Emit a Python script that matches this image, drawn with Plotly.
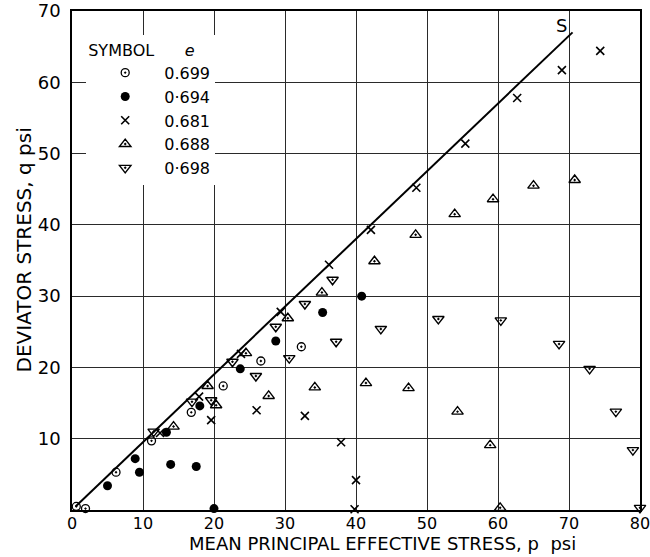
import plotly.graph_objects as go

# e = 0.699 (open circle with dot)
p_699 = [0.6, 1.9, 6.2, 11.2, 16.8, 21.3, 26.6, 32.3]
q_699 = [0.5, 0.2, 5.3, 9.7, 13.7, 17.4, 20.9, 22.9]

# e = 0.694 (filled circle)
p_694 = [5.0, 8.9, 9.5, 13.3, 13.9, 17.5, 18.0, 20.0, 23.7, 28.7, 35.3, 40.8]
q_694 = [3.4, 7.2, 5.3, 10.9, 6.4, 6.1, 14.6, 0.2, 19.8, 23.7, 27.7, 30.0]

# e = 0.681 (cross)
p_681 = [12.4, 17.9, 19.6, 23.8, 26.0, 29.4, 32.8, 36.2, 37.9, 40.0, 39.8, 42.1, 48.5, 55.4, 62.7, 69.0, 74.4]
q_681 = [10.8, 15.9, 12.6, 21.9, 14.0, 27.8, 13.2, 34.4, 9.5, 4.2, 0.1, 39.3, 45.2, 51.4, 57.8, 61.7, 64.4]

# e = 0.688 (triangle up)
p_688 = [14.3, 19.1, 20.3, 24.5, 27.7, 30.4, 34.2, 35.2, 41.4, 42.6, 47.4, 48.4, 53.9, 54.3, 58.9, 59.3, 60.3, 65.0, 70.8]
q_688 = [11.7, 17.4, 14.7, 22.0, 16.0, 26.9, 17.2, 30.5, 17.8, 34.9, 17.1, 38.6, 41.5, 13.8, 9.1, 43.6, 0.3, 45.5, 46.3]

# e = 0.698 (triangle down)
p_698 = [11.5, 16.9, 19.6, 22.6, 25.9, 28.7, 30.6, 32.8, 36.7, 37.2, 43.5, 51.6, 60.4, 68.6, 72.9, 76.6, 79.0, 80.0]
q_698 = [11.0, 15.2, 15.4, 20.8, 18.8, 25.7, 21.3, 28.9, 32.3, 23.6, 25.4, 26.8, 26.6, 23.3, 19.8, 13.8, 8.4, 0.3]

# line S
line_p = [0.5, 70.5]
line_q = [0.5, 67.0]

x_ticks = [0, 10, 20, 30, 40, 50, 60, 70, 80]
y_ticks = [10, 20, 30, 40, 50, 60, 70]

FONT = "DejaVu Sans"
fig = go.Figure()

fig.add_trace(go.Scatter(x=line_p, y=line_q, mode="lines", line=dict(color="black", width=2),
                         showlegend=False, hoverinfo="skip"))

series = [
    ("0.699", p_699, q_699, dict(symbol="circle-open-dot", size=8, color="black", line=dict(width=1.3, color="black"))),
    ("0·694", p_694, q_694, dict(symbol="circle", size=9, color="black")),
    ("0.681", p_681, q_681, dict(symbol="x-thin-open", size=8, color="black", line=dict(width=1.6, color="black"))),
    ("0.688", p_688, q_688, dict(symbol="triangle-up-open-dot", size=10, color="black", line=dict(width=1.4, color="black"))),
    ("0·698", p_698, q_698, dict(symbol="triangle-down-open-dot", size=10, color="black", line=dict(width=1.4, color="black"))),
]
for name, px, qy, mk in series:
    fig.add_trace(go.Scatter(x=px, y=qy, mode="markers", name=name, marker=mk, cliponaxis=False))

fig.add_annotation(x=69.0, y=68.0, text="S", showarrow=False, xref="x", yref="y",
                   font=dict(family=FONT, size=18, color="black"))

# axis titles placed as annotations to match the original positions
fig.add_annotation(x=0.546, y=0, xref="paper", yref="paper", yshift=-46, yanchor="bottom",
                   text="MEAN PRINCIPAL EFFECTIVE STRESS, p\u00a0\u00a0psi", showarrow=False,
                   font=dict(family=FONT, size=18, color="black"))
fig.add_annotation(x=0, y=0.52, xref="paper", yref="paper", xshift=-48, xanchor="center",
                   text="DEVIATOR STRESS, q psi", textangle=-90, showarrow=False,
                   font=dict(family=FONT, size=20, color="black"))

axis_common = dict(showgrid=True, gridcolor="#2a2a2a", gridwidth=1, showline=True, linecolor="black",
                   linewidth=1.5, mirror=True, zeroline=False, ticks="", automargin=False,
                   ticklabeloverflow="allow")

fig.update_xaxes(range=[0, 80], tickvals=x_ticks, ticktext=[str(v) for v in x_ticks],
                 tickfont=dict(family=FONT, size=16, color="black"), ticklabelstandoff=-2,
                 **axis_common)
fig.update_yaxes(range=[0, 70], tickvals=y_ticks, ticktext=[str(v) for v in y_ticks],
                 tickfont=dict(family=FONT, size=18, color="black"), ticklabelstandoff=6,
                 **axis_common)

fig.update_layout(
    width=650, height=557,
    margin=dict(l=72, r=10, t=11, b=47),
    plot_bgcolor="white", paper_bgcolor="white",
    font=dict(family=FONT, color="black"),
    legend=dict(x=0.025, y=0.952, xanchor="left", yanchor="top", bgcolor="white",
                title=dict(text="SYMBOL\u00a0\u00a0\u00a0\u00a0\u00a0\u00a0<i>e</i>", font=dict(family=FONT, size=16)),
                font=dict(family=FONT, size=16), itemwidth=68, tracegroupgap=0),
)

fig.write_html("out.html")
